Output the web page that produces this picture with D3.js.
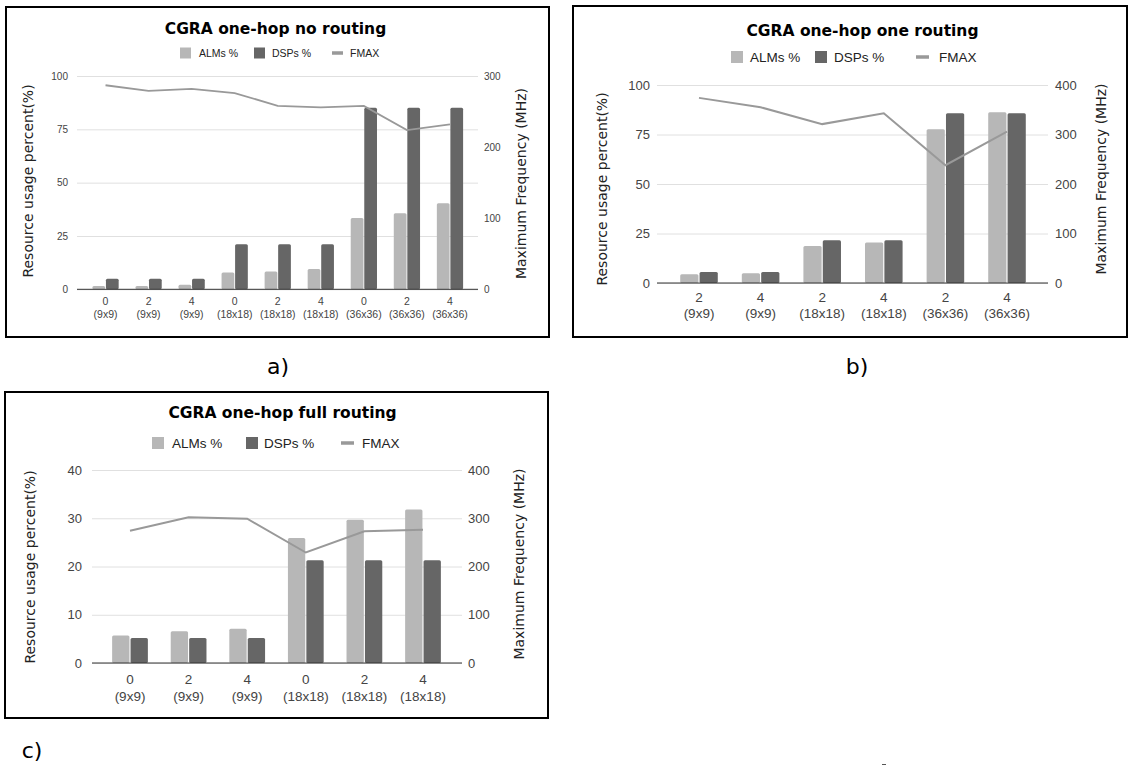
<!DOCTYPE html>
<html>
<head>
<meta charset="utf-8">
<script src="https://cdn.jsdelivr.net/npm/d3@7"></script>
<style>
  body { margin: 0; background: #fff; }
  svg { display: block; }
</style>
</head>
<body>
<svg id="visualization"></svg>
<script>
// Data: panel a) CGRA one-hop no routing
const hopsA = ["0", "2", "4", "0", "2", "4", "0", "2", "4"];
const sizesA = ["(9x9)", "(9x9)", "(9x9)", "(18x18)", "(18x18)", "(18x18)", "(36x36)", "(36x36)", "(36x36)"];
const almsA = [1.6, 1.6, 2.1, 7.9, 8.4, 9.5, 33.4, 35.7, 40.4];
const dspsA = [4.9, 4.9, 4.9, 21.1, 21.1, 21.1, 85.1, 85.1, 85.1];
const fmaxA = [287, 279, 282, 276, 258, 256, 258, 224, 232];
const leftTicksA = [0, 25, 50, 75, 100];
const rightTicksA = [0, 100, 200, 300];

// Data: panel b) CGRA one-hop one routing
const hopsB = ["2", "4", "2", "4", "2", "4"];
const sizesB = ["(9x9)", "(9x9)", "(18x18)", "(18x18)", "(36x36)", "(36x36)"];
const almsB = [4.4, 4.9, 18.7, 20.4, 77.7, 86.2];
const dspsB = [5.5, 5.5, 21.6, 21.6, 85.7, 85.7];
const fmaxB = [374, 355, 321, 343, 238, 306];
const leftTicksB = [0, 25, 50, 75, 100];
const rightTicksB = [0, 100, 200, 300, 400];

// Data: panel c) CGRA one-hop full routing
const hopsC = ["0", "2", "4", "0", "2", "4"];
const sizesC = ["(9x9)", "(9x9)", "(9x9)", "(18x18)", "(18x18)", "(18x18)"];
const almsC = [5.7, 6.6, 7.1, 25.9, 29.7, 31.8];
const dspsC = [5.2, 5.2, 5.2, 21.3, 21.3, 21.3];
const fmaxC = [274, 302, 299, 229, 273, 276];
const leftTicksC = [0, 10, 20, 30, 40];
const rightTicksC = [0, 100, 200, 300, 400];

const seriesNames = ["ALMs %", "DSPs %", "FMAX"];
const leftTitle = "Resource usage percent(%)";
const rightTitle = "Maximum Frequency (MHz)";

const almColor = "#b7b7b7";
const dspColor = "#666666";
const fmaxColor = "#999999";
const sansFont = "'Liberation Sans', Arial, sans-serif";
const titleFont = "'DejaVu Sans', Verdana, sans-serif";

const width = 1130;
const height = 767;

const svg = d3.select("#visualization")
  .attr("width", width)
  .attr("height", height);

function drawPanel(p) {
  const n = p.hops.length;

  // Frame
  svg.append("rect")
    .attr("x", p.box[0]).attr("y", p.box[1])
    .attr("width", p.box[2]).attr("height", p.box[3])
    .attr("fill", "none")
    .attr("stroke", "#000")
    .attr("stroke-width", 2);

  // Scales
  const x = d3.scaleBand()
    .domain(d3.range(n))
    .range(p.xRange)
    .paddingInner(0.39)
    .paddingOuter(0.195);

  const xInner = d3.scaleBand()
    .domain(["alm", "dsp"])
    .range([0, x.bandwidth()])
    .paddingInner(0.06);

  const yLeft = d3.scaleLinear()
    .domain([0, p.leftTicks[p.leftTicks.length - 1]])
    .range([p.y0, p.yTop]);

  const yRight = d3.scaleLinear()
    .domain([0, p.rightTicks[p.rightTicks.length - 1]])
    .range([p.y0, p.yTop]);

  // Left axis with gridlines
  const gL = svg.append("g")
    .attr("transform", `translate(${p.grid[0]},0)`)
    .call(d3.axisLeft(yLeft).tickValues(p.leftTicks).tickSize(-(p.grid[1] - p.grid[0])).tickPadding(p.padL));
  gL.select(".domain").remove();
  gL.selectAll(".tick line").attr("stroke", "#e0e0e0");
  gL.selectAll(".tick text")
    .attr("fill", "#444")
    .style("font-family", sansFont)
    .style("font-size", p.tickSize + "px");

  // Right axis
  const gR = svg.append("g")
    .attr("transform", `translate(${p.grid[1]},0)`)
    .call(d3.axisRight(yRight).tickValues(p.rightTicks).tickSize(0).tickPadding(p.padR));
  gR.select(".domain").remove();
  gR.selectAll(".tick text")
    .attr("fill", "#444")
    .style("font-family", sansFont)
    .style("font-size", p.tickSize + "px");

  // Bottom axis (two line labels)
  const gX = svg.append("g")
    .attr("transform", `translate(0,${p.y0})`)
    .call(d3.axisBottom(x).tickSize(0));
  gX.select(".domain").remove();
  gX.selectAll(".tick text").each(function(i) {
    const t = d3.select(this);
    t.text(null).attr("y", null).attr("dy", null)
      .attr("fill", "#444")
      .style("font-family", sansFont)
      .style("font-size", p.xTickSize + "px");
    t.append("tspan").attr("x", 0).attr("y", p.xl[0]).text(p.hops[i]);
    t.append("tspan").attr("x", 0).attr("y", p.xl[1]).text(p.sizes[i]);
  });

  // ALMs bars
  svg.append("g").selectAll("rect")
    .data(p.alms)
    .enter()
    .append("rect")
    .attr("x", (d, i) => x(i) + xInner("alm"))
    .attr("y", d => yLeft(d))
    .attr("width", xInner.bandwidth())
    .attr("height", d => yLeft(0) - yLeft(d))
    .attr("rx", 1.5)
    .attr("fill", almColor);

  // DSPs bars
  svg.append("g").selectAll("rect")
    .data(p.dsps)
    .enter()
    .append("rect")
    .attr("x", (d, i) => x(i) + xInner("dsp"))
    .attr("y", d => yLeft(d))
    .attr("width", xInner.bandwidth())
    .attr("height", d => yLeft(0) - yLeft(d))
    .attr("rx", 1.5)
    .attr("fill", dspColor);

  // Baseline
  svg.append("line")
    .attr("x1", p.grid[0]).attr("x2", p.grid[1])
    .attr("y1", yLeft(0)).attr("y2", yLeft(0))
    .attr("stroke", "#333")
    .attr("stroke-width", 1);

  // FMAX line
  const line = d3.line()
    .x((d, i) => x(i) + x.bandwidth() / 2)
    .y(d => yRight(d));

  svg.append("path")
    .datum(p.fmax)
    .attr("d", line)
    .attr("fill", "none")
    .attr("stroke", fmaxColor)
    .attr("stroke-width", p.lineW);

  // Legend
  const lg = p.legend;
  svg.append("rect")
    .attr("x", lg.x[0]).attr("y", lg.y - lg.sq / 2)
    .attr("width", lg.sq).attr("height", lg.sq)
    .attr("fill", almColor);
  svg.append("rect")
    .attr("x", lg.x[2]).attr("y", lg.y - lg.sq / 2)
    .attr("width", lg.sq).attr("height", lg.sq)
    .attr("fill", dspColor);
  svg.append("line")
    .attr("x1", lg.x[4]).attr("x2", lg.x[4] + lg.lineLen)
    .attr("y1", lg.y).attr("y2", lg.y)
    .attr("stroke", fmaxColor)
    .attr("stroke-width", 3.5);
  [lg.x[1], lg.x[3], lg.x[5]].forEach((tx, k) => {
    svg.append("text")
      .attr("x", tx)
      .attr("y", lg.y)
      .attr("dy", "0.35em")
      .attr("fill", "#222")
      .style("font-family", sansFont)
      .style("font-size", lg.size + "px")
      .text(seriesNames[k]);
  });

  // Axis titles
  svg.append("text")
    .attr("transform", `translate(${p.leftTitle[0]},${p.leftTitle[1]}) rotate(-90)`)
    .attr("dy", "0.35em")
    .attr("text-anchor", "middle")
    .attr("fill", "#222")
    .style("font-family", titleFont)
    .style("font-size", p.axisTitleSize + "px")
    .text(leftTitle);

  svg.append("text")
    .attr("transform", `translate(${p.rightTitle[0]},${p.rightTitle[1]}) rotate(-90)`)
    .attr("dy", "0.35em")
    .attr("text-anchor", "middle")
    .attr("fill", "#222")
    .style("font-family", titleFont)
    .style("font-size", p.axisTitleSize + "px")
    .text(rightTitle);

  // Chart title
  svg.append("text")
    .attr("x", p.title[0])
    .attr("y", p.title[1])
    .attr("dy", "0.35em")
    .attr("text-anchor", "middle")
    .attr("fill", "#000")
    .style("font-family", titleFont)
    .style("font-weight", "bold")
    .style("font-size", "15.5px")
    .text(p.titleText);

  // Panel letter
  svg.append("text")
    .attr("x", p.letter[0])
    .attr("y", p.letter[1])
    .attr("dy", "0.35em")
    .attr("text-anchor", "middle")
    .attr("fill", "#000")
    .style("font-family", titleFont)
    .style("font-size", "22px")
    .text(p.letterText);
}

drawPanel({
  hops: hopsA, sizes: sizesA, alms: almsA, dsps: dspsA, fmax: fmaxA,
  leftTicks: leftTicksA, rightTicks: rightTicksA,
  titleText: "CGRA one-hop no routing", letterText: "a)",
  box: [6, 7, 543, 330],
  xRange: [84, 471.5], grid: [77, 478], y0: 289.3, yTop: 76,
  padL: 9, padR: 6, tickSize: 10, xTickSize: 10.5, xl: [16, 28.5],
  lineW: 1.8,
  legend: { y: 53, sq: 11, x: [180, 199, 254, 272, 332, 350], lineLen: 11, size: 10.5 },
  leftTitle: [28.5, 181], rightTitle: [521, 183.5], axisTitleSize: 14,
  title: [275.5, 29], letter: [278, 366]
});

drawPanel({
  hops: hopsB, sizes: sizesB, alms: almsB, dsps: dspsB, fmax: fmaxB,
  leftTicks: leftTicksB, rightTicks: rightTicksB,
  titleText: "CGRA one-hop one routing", letterText: "b)",
  box: [573, 6, 554, 331],
  xRange: [668.2, 1037.8], grid: [657, 1048], y0: 283, yTop: 85,
  padL: 7, padR: 7, tickSize: 13, xTickSize: 13.5, xl: [19, 34.5],
  lineW: 2,
  legend: { y: 57, sq: 12, x: [731, 750, 815, 834, 916, 939], lineLen: 13, size: 13.5 },
  leftTitle: [602, 189], rightTitle: [1101, 179], axisTitleSize: 14,
  title: [862.5, 31], letter: [857, 366]
});

drawPanel({
  hops: hopsC, sizes: sizesC, alms: almsC, dsps: dspsC, fmax: fmaxC,
  leftTicks: leftTicksC, rightTicks: rightTicksC,
  titleText: "CGRA one-hop full routing", letterText: "c)",
  box: [5, 392, 543, 326],
  xRange: [100.7, 452.3], grid: [92, 462], y0: 663, yTop: 470,
  padL: 10, padR: 6, tickSize: 13, xTickSize: 13.5, xl: [20.5, 37.5],
  lineW: 2,
  legend: { y: 443, sq: 12, x: [152, 172, 246, 264, 341, 362], lineLen: 13, size: 13.5 },
  leftTitle: [30, 567], rightTitle: [519, 564], axisTitleSize: 14,
  title: [282.5, 413], letter: [32, 750]
});

// Small stray mark near the bottom edge
svg.append("line")
  .attr("x1", 882).attr("x2", 886)
  .attr("y1", 764.5).attr("y2", 764.5)
  .attr("stroke", "#555")
  .attr("stroke-width", 1);
</script>
</body>
</html>
